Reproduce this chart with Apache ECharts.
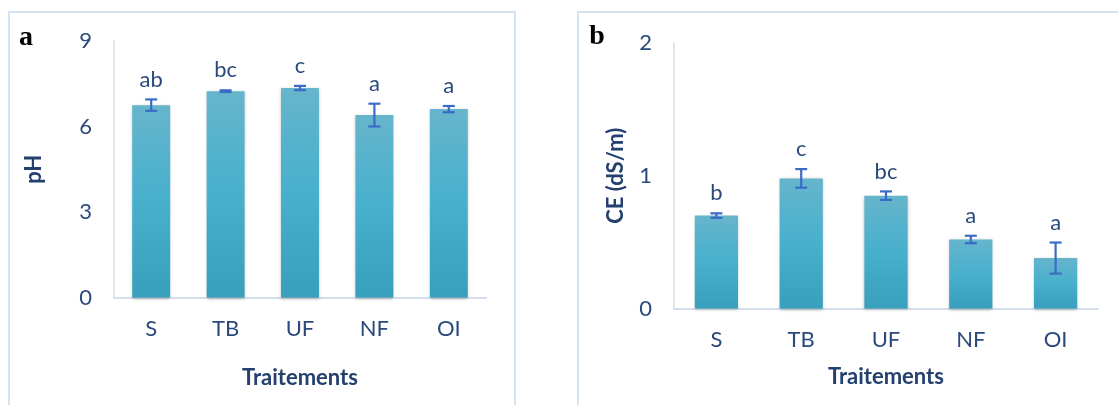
<!DOCTYPE html>
<html>
<head>
<meta charset="utf-8">
<script src="https://cdn.jsdelivr.net/npm/echarts@6/dist/echarts.min.js"></script>
<style>
html,body{margin:0;padding:0;background:#fff;}
#chart{width:1118px;height:405px;}
</style>
</head>
<body>
<div id="chart"></div>
<script>
var categories = ['S', 'TB', 'UF', 'NF', 'OI'];
var phMeans = [6.75, 7.24, 7.35, 6.40, 6.61];
var phErr = [0.20, 0.03, 0.075, 0.40, 0.11];
var phLetters = ['ab', 'bc', 'c', 'a', 'a'];
var ceMeans = [0.70, 0.98, 0.85, 0.52, 0.38];
var ceErr = [0.017, 0.07, 0.032, 0.028, 0.117];
var ceLetters = ['b', 'c', 'bc', 'a', 'a'];
var phAxis = { min: 0, max: 9, interval: 3 };
var ceAxis = { min: 0, max: 2, interval: 1 };
var panelLabels = ['a', 'b'];
var xTitle = 'Traitements';
var phTitle = 'pH';
var ceTitle = 'CE (dS/m)';

var FONT = 'Lato';
var FS = 22;
var TXT = '#2a4a7c';
var TITLE = '#23406e';
var ERR = '#3a6cc6';

var barColor = new echarts.graphic.LinearGradient(0, 0, 0, 1, [
  { offset: 0, color: '#66b5cc' },
  { offset: 0.5, color: '#47b0cd' },
  { offset: 1, color: '#389fbc' }
]);

function errSeries(idx, means, errs, letters) {
  return {
    type: 'custom',
    xAxisIndex: idx, yAxisIndex: idx,
    z: 5,
    data: means.map(function (m, i) { return [i, m, errs[i]]; }),
    renderItem: function (params, api) {
      var i = api.value(0), m = api.value(1), e = api.value(2);
      var top = api.coord([i, m + e]);
      var bot = api.coord([i, m - e]);
      var cap = 6;
      var st = { stroke: ERR, lineWidth: 2.2 };
      return {
        type: 'group',
        children: [
          { type: 'line', shape: { x1: top[0], y1: top[1], x2: bot[0], y2: bot[1] }, style: st },
          { type: 'line', shape: { x1: top[0] - cap, y1: top[1], x2: top[0] + cap, y2: top[1] }, style: st },
          { type: 'line', shape: { x1: bot[0] - cap, y1: bot[1], x2: bot[0] + cap, y2: bot[1] }, style: st },
          { type: 'text', x: top[0], y: top[1] - 20,
            style: { text: letters[params.dataIndex], fill: TXT, font: FS + 'px ' + FONT, align: 'center', verticalAlign: 'middle' } }
        ]
      };
    }
  };
}

function barSeries(idx, means) {
  return {
    type: 'bar', xAxisIndex: idx, yAxisIndex: idx,
    data: means, barWidth: '51%',
    itemStyle: { color: barColor, shadowColor: 'rgba(0,0,0,0.25)', shadowBlur: 3, shadowOffsetY: 1 }
  };
}

function xAx(idx, gap) {
  return {
    type: 'category', gridIndex: idx, data: categories,
    axisLine: { show: true, lineStyle: { color: '#d3deed', width: 2 } },
    axisTick: { show: false },
    axisLabel: { color: TXT, fontFamily: FONT, fontSize: FS, margin: 20 },
    name: xTitle, nameLocation: 'middle', nameGap: gap,
    nameTextStyle: { color: TITLE, fontFamily: FONT, fontSize: FS, fontWeight: 'bold' }
  };
}
function yAx(idx, ax, name, gap) {
  return {
    type: 'value', gridIndex: idx, min: ax.min, max: ax.max, interval: ax.interval,
    axisLine: { show: true, lineStyle: { color: '#dcdcdc', width: 1.5 } },
    axisTick: { show: false },
    splitLine: { show: false },
    axisLabel: { color: TXT, fontFamily: FONT, fontSize: FS, margin: 22 },
    name: name, nameLocation: 'middle', nameGap: gap,
    nameTextStyle: { color: TITLE, fontFamily: FONT, fontSize: FS, fontWeight: 'bold' }
  };
}

var chart = echarts.init(document.getElementById('chart'), null, { renderer: 'canvas' });
chart.setOption({
  backgroundColor: '#ffffff',
  animation: false,
  grid: [
    { left: 114, right: 632, top: 41, bottom: 107.5 },
    { left: 674, right: 20, top: 43, bottom: 96.5 }
  ],
  xAxis: [xAx(0, 69), xAx(1, 57)],
  yAxis: [yAx(0, phAxis, phTitle, 69), yAx(1, ceAxis, ceTitle, 47)],
  series: [
    barSeries(0, phMeans), errSeries(0, phMeans, phErr, phLetters),
    barSeries(1, ceMeans), errSeries(1, ceMeans, ceErr, ceLetters)
  ],
  graphic: [
    { type: 'rect', shape: { x: 9, y: 12, width: 506, height: 440 }, style: { fill: 'none', stroke: '#d5e2f2', lineWidth: 2 }, silent: true },
    { type: 'rect', shape: { x: 578, y: 12, width: 620, height: 440 }, style: { fill: 'none', stroke: '#d5e2f2', lineWidth: 2 }, silent: true },
    { type: 'text', x: 26, y: 38, style: { text: panelLabels[0], font: 'bold 28px "Liberation Serif"', fill: '#000', align: 'center', verticalAlign: 'middle' } },
    { type: 'text', x: 597, y: 37, style: { text: panelLabels[1], font: 'bold 28px "Liberation Serif"', fill: '#000', align: 'center', verticalAlign: 'middle' } }
  ]
});
</script>
</body>
</html>
